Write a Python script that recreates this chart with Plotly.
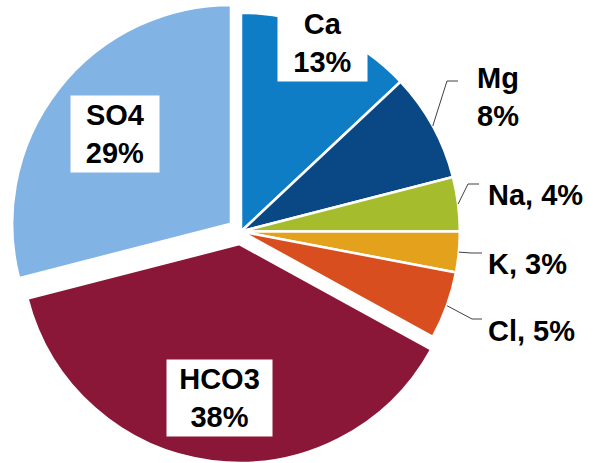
import math
import plotly.graph_objects as go

# Ion composition (% of total)
ions = ["Ca", "Mg", "Na", "K", "Cl", "HCO3", "SO4"]
shares = [13, 8, 4, 3, 5, 38, 29]
exploded = ["HCO3", "SO4"]
inside_labels = ["Ca", "HCO3", "SO4"]

slice_colors = ["#0F7DC5", "#0A4885", "#A5BD2D", "#E4A11B", "#D94E1F", "#8A1737", "#82B3E5"]

W, H = 593, 463
PULL = 0.058
CX = 241                      # pie centre, px from the left
FONT = dict(family="Liberation Sans, Arial, sans-serif", size=29, color="#000000", weight="bold")

pulls = [PULL if n in exploded else 0 for n in ions]

fig = go.Figure(
    go.Pie(
        labels=ions,
        values=shares,
        sort=False,
        direction="clockwise",
        rotation=0,
        pull=pulls,
        textinfo="none",
        marker=dict(colors=slice_colors, line=dict(color="#FFFFFF", width=2.5)),
        domain=dict(x=[0, 2 * CX / W], y=[0, 1]),
        showlegend=False,
    )
)

# Pie geometry as laid out by plotly (margins are zero)
r = min(2 * CX, H) / (2 + 2 * max(pulls))
cy = H / 2
total = sum(shares)


def px_to_paper(x, y):
    return x / W, 1 - y / H


def pct(v):
    return f"{round(100 * v / total)}%"


# slice bisector angles, clockwise from 12 o'clock
mids = {}
acc = 0
for name, v in zip(ions, shares):
    mids[name] = 2 * math.pi * (acc + v / 2) / total
    acc += v

annotations = []
shapes = []

# labels sitting on the slices
inside_depth = {"Ca": 0.94, "HCO3": 0.71, "SO4": 0.67}
inside_width = {"Ca": 83, "HCO3": 99, "SO4": 82}
for name in inside_labels:
    a = mids[name]
    dx, dy = math.sin(a), -math.cos(a)
    p = pulls[ions.index(name)]
    f = inside_depth[name] + p
    x, y = px_to_paper(CX + f * r * dx, cy + f * r * dy)
    annotations.append(dict(
        x=x, y=y, xref="paper", yref="paper", xanchor="center", yanchor="middle",
        text=f"{name}<br>{pct(shares[ions.index(name)])}", showarrow=False,
        font=FONT, bgcolor="#FFFFFF", borderpad=3, width=inside_width[name], align="center",
    ))

# labels outside the pie with elbow leader lines
outside = {
    "Mg": dict(x=498, y=97, anchor="center", elbow=(447, 81), end=458, two_lines=True),
    "Na": dict(x=484, y=195, anchor="left", elbow=(468, 184), end=479, two_lines=False),
    "K": dict(x=484, y=264, anchor="left", elbow=(471, 253), end=482, two_lines=False),
    "Cl": dict(x=484, y=331, anchor="left", elbow=(472, 319), end=482, two_lines=False),
}
for name, o in outside.items():
    v = shares[ions.index(name)]
    text = f"{name}<br>{pct(v)}" if o["two_lines"] else f"{name}, {pct(v)}"
    x, y = px_to_paper(o["x"], o["y"])
    annotations.append(dict(
        x=x, y=y, xref="paper", yref="paper", xanchor=o["anchor"], yanchor="middle",
        text=text, showarrow=False, font=FONT, bgcolor="#FFFFFF", borderpad=3, align="center",
    ))
    a = mids[name]
    sx, sy = CX + r * math.sin(a), cy - r * math.cos(a)
    ex, ey = o["elbow"]
    p0 = px_to_paper(sx, sy)
    p1 = px_to_paper(ex, ey)
    p2 = px_to_paper(o["end"], ey)
    shapes.append(dict(
        type="path", xref="paper", yref="paper",
        path=f"M {p0[0]},{p0[1]} L {p1[0]},{p1[1]} L {p2[0]},{p2[1]}",
        line=dict(color="#404040", width=1),
    ))

fig.update_layout(
    width=W, height=H,
    margin=dict(l=0, r=0, t=0, b=0),
    paper_bgcolor="#FFFFFF", plot_bgcolor="#FFFFFF",
    annotations=annotations, shapes=shapes,
)

fig.write_html("out.html")
